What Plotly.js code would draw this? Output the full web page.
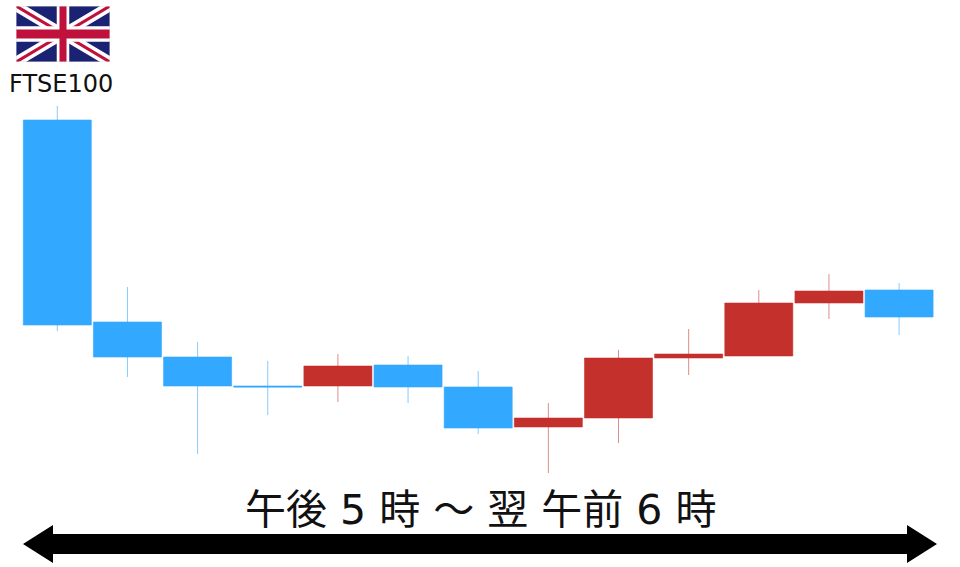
<!DOCTYPE html>
<html><head><meta charset="utf-8">
<script src="https://cdn.plot.ly/plotly-3.0.1.min.js"></script>
<style>html,body{margin:0;padding:0;background:#fff}#c{width:960px;height:567px}</style></head>
<body><div id="c"></div>
<script>
const periods=[0,1,2,3,4,5,6,7,8,9,10,11,12];
const opens =[447,245,210,181,181,202,180,140,149,209,211,264,277];
const closes=[242,210,181,180,201,180,139,149,209,213,264,276,250];
const highs =[461,280,225,206,213,211,196,164,217,238,277,293,284];
const lows  =[236,190,113,152,165,164,133, 94,124,192,211,248,232];
const indexLabel="FTSE100";
const spanLabel="午後 5 時 ～ 翌 午前 6 時";
const W=960,H=567,step=70.15;
const px=x=>x/W, py=y=>1-y/H;
const poly=pts=>'M'+pts.map(p=>px(p[0])+','+py(p[1])).join('L')+'Z';
const flag=`<svg xmlns="http://www.w3.org/2000/svg" width="600" height="360" viewBox="0 0 60 36"><clipPath id="a"><rect width="60" height="36"/></clipPath><g clip-path="url(#a)"><rect width="60" height="36" fill="#1a2273"/><path d="M0 0L60 36M60 0L0 36" stroke="#fff" stroke-width="6.5"/><path d="M0 0L60 36M60 0L0 36" stroke="#c0103c" stroke-width="2"/><path d="M30 0V36" stroke="#fff" stroke-width="8"/><path d="M0 18H60" stroke="#fff" stroke-width="10"/><path d="M30 0V36" stroke="#c0103c" stroke-width="4.5"/><path d="M0 18H60" stroke="#c0103c" stroke-width="5.8"/></g><rect x=".15" y=".15" width="59.7" height="35.7" fill="none" stroke="#ddd" stroke-width=".3"/></svg>`;
const trace={type:'candlestick',x:periods,open:opens,high:highs,low:lows,close:closes,
  increasing:{line:{color:'rgba(196,48,43,0.55)',width:1},fillcolor:'#c4302b'},
  decreasing:{line:{color:'rgba(51,168,255,0.6)',width:1},fillcolor:'#33a8ff'},
  whiskerwidth:0,hoverinfo:'skip'};
const layout={width:W,height:H,margin:{l:0,r:0,t:0,b:0},paper_bgcolor:'#fff',plot_bgcolor:'#fff',
  showlegend:false,boxgap:0.03,boxgroupgap:0,
  xaxis:{range:[-57.3/step,(W-57.3)/step],visible:false,rangeslider:{visible:false},fixedrange:true},
  yaxis:{range:[0,H],visible:false,fixedrange:true},
  images:[{source:'data:image/svg+xml;base64,'+btoa(flag),xref:'paper',yref:'paper',x:px(16),y:py(6),sizex:px(94),sizey:56/H,sizing:'stretch',xanchor:'left',yanchor:'top',layer:'above'}],
  shapes:[{type:'path',xref:'paper',yref:'paper',fillcolor:'#000',line:{width:0},
    path:poly([[23,544],[53,525],[53,534],[907,534],[907,525],[937,544],[907,563],[907,554],[53,554],[53,563]])}],
  annotations:[
    {xref:'paper',yref:'paper',x:px(61),y:py(84),text:indexLabel,showarrow:false,xanchor:'center',yanchor:'middle',
     font:{family:'"DejaVu Sans","Noto Sans",sans-serif',size:24,color:'#111'}},
    {xref:'paper',yref:'paper',x:px(480),y:py(510),text:spanLabel,showarrow:false,xanchor:'center',yanchor:'middle',
     font:{family:'"DejaVu Sans","Noto Sans CJK JP",sans-serif',size:41,color:'#111'}}
  ]};
Plotly.newPlot('c',[trace],layout,{staticPlot:true,displayModeBar:false});
</script></body></html>
